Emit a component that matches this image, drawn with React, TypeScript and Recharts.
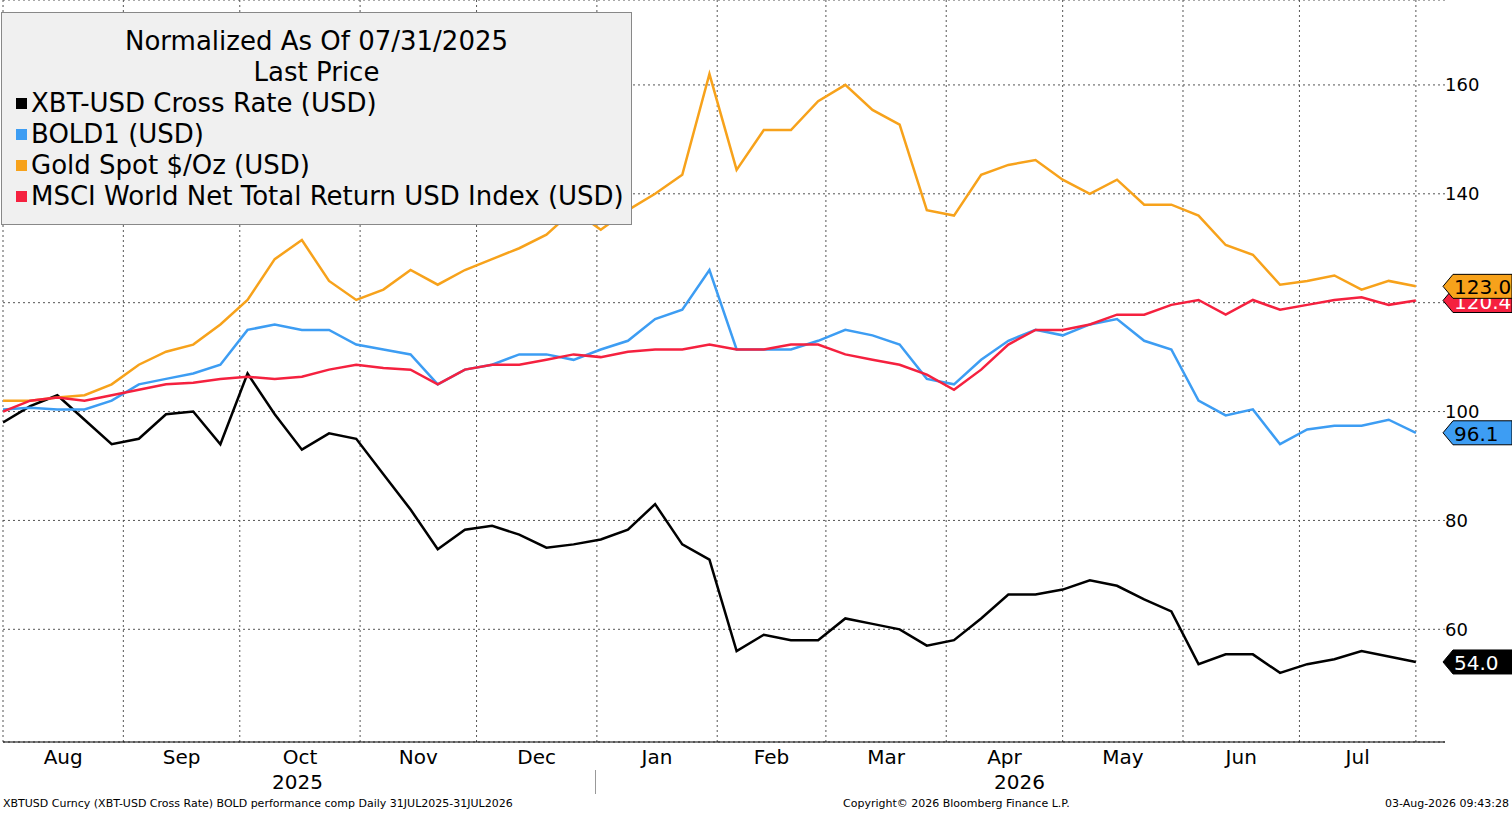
import { LineChart, Line, XAxis, YAxis, CartesianGrid, ReferenceLine, ReferenceDot } from "recharts";

const weekDays = Array.from({ length: 53 }, (_, i) => i * 7);

const xbt = [98, 101, 103, 98.5, 94, 95, 99.5, 100, 94, 107, 99.5, 93, 96, 95, 88.5, 82, 74.7, 78.3, 79, 77.4, 75, 75.6, 76.5, 78.3, 83, 75.6, 72.8, 56, 59, 58, 58, 62, 61, 60, 57, 58, 62, 66.4, 66.4, 67.3, 69, 68, 65.5, 63.3, 53.6, 55.4, 55.4, 52, 53.6, 54.5, 56, 55, 54];
const bold = [100.4, 100.7, 100.4, 100.4, 102, 105, 106, 107, 108.6, 115, 116, 115, 115, 112.3, 111.4, 110.5, 105, 107.7, 108.6, 110.5, 110.5, 109.5, 111.4, 113, 117, 118.7, 126, 111.4, 111.4, 111.4, 113, 115, 114, 112.3, 106, 105, 109.5, 113, 115, 114, 116, 117, 113, 111.4, 102, 99.3, 100.4, 94, 96.7, 97.4, 97.4, 98.5, 96.1];
const gold = [102, 102, 102.6, 103, 105, 108.6, 111, 112.3, 116, 120.5, 128, 131.5, 124, 120.5, 122.4, 126, 123.3, 126, 128, 130, 132.5, 137, 133.4, 137, 140, 143.5, 162, 144.4, 151.7, 151.7, 157, 160, 155.4, 152.7, 137, 136, 143.5, 145.3, 146.2, 142.6, 140, 142.6, 138, 138, 136, 130.6, 128.8, 123.3, 124, 125, 122.4, 124, 123];
const msci = [100, 102, 102.6, 102, 103, 104, 105, 105.3, 106, 106.4, 106, 106.4, 107.7, 108.6, 108, 107.7, 105, 107.7, 108.6, 108.6, 109.5, 110.5, 110, 111, 111.4, 111.4, 112.3, 111.4, 111.4, 112.3, 112.3, 110.5, 109.5, 108.6, 106.8, 104, 107.7, 112.3, 115, 115, 116, 117.8, 117.8, 119.6, 120.5, 117.8, 120.5, 118.7, 119.6, 120.5, 121, 119.6, 120.4];

const monthStarts = [0, 31, 61, 92, 122, 153, 184, 212, 243, 273, 304, 334, 364];
const monthLabels = ["Aug", "Sep", "Oct", "Nov", "Dec", "Jan", "Feb", "Mar", "Apr", "May", "Jun", "Jul"];
const yTicks = [60, 80, 100, 120, 140, 160];

const data = weekDays.map((d, i) => ({ d, xbt: xbt[i], bold: bold[i], gold: gold[i], msci: msci[i] }));
const monthMids = monthLabels.map((_, i) => (monthStarts[i] + monthStarts[i + 1]) / 2);

const series = [
  { key: "xbt", color: "#000000", name: "XBT-USD Cross Rate (USD)" },
  { key: "bold", color: "#3d9df3", name: "BOLD1 (USD)" },
  { key: "gold", color: "#f7a21b", name: "Gold Spot $/Oz (USD)" },
  { key: "msci", color: "#f5213f", name: "MSCI World Net Total Return USD Index (USD)" },
];

const lastTags = [
  { v: 54.0, color: "#000000", text: "#fff" },
  { v: 96.1, color: "#3d9df3", text: "#000" },
  { v: 120.4, color: "#f5213f", text: "#fff" },
  { v: 123.0, color: "#f7a21b", text: "#000" },
];

const font = "'DejaVu Sans', sans-serif";

function Tag(props: any) {
  const { cy, fill, txt, label } = props;
  const x0 = 1443;
  const h = 24;
  return (
    <g>
      <polygon
        points={`${x0},${cy} ${x0 + 10},${cy - h / 2} ${1512},${cy - h / 2} ${1512},${cy + h / 2} ${x0 + 10},${cy + h / 2}`}
        fill={fill}
        stroke="#000"
        strokeWidth={1}
      />
      <text x={x0 + 11} y={cy + 8} fontSize={20} fill={txt} fontFamily={font}>{label}</text>
    </g>
  );
}

export default function App() {
  return (
    <div style={{ position: "absolute", left: 0, top: 0, width: 1512, height: 813, background: "#fff", fontFamily: font, overflow: "hidden" }}>
      <LineChart width={1512} height={800} data={data} margin={{ top: 0, right: 0, left: 3, bottom: 0 }}>
        <CartesianGrid vertical={false} stroke="#555" strokeDasharray="2 3" />
        <XAxis
          dataKey="d"
          type="number"
          domain={[0, 371.5]}
          ticks={monthMids}
          tickFormatter={(v: number) => monthLabels[monthMids.indexOf(v)]}
          tickLine={false}
          axisLine={{ stroke: "#000" }}
          height={58}
          tick={{ fill: "#000", fontSize: 20, fontFamily: font, dy: 0 }}
          interval={0}
          allowDataOverflow
        />
        <YAxis
          orientation="right"
          domain={[39.3, 175.6]}
          ticks={yTicks}
          width={67}
          axisLine={false}
          tickLine={false}
          tickFormatter={(v: number) => (v === 120 ? "" : String(v))}
          tick={{ fill: "#000", fontSize: 18, fontFamily: font, textAnchor: "start", dx: -8 }}
          allowDataOverflow
        />
        {monthStarts.map((m) => (
          <ReferenceLine key={m} x={m} stroke="#555" strokeDasharray="2 3" />
        ))}
        {series.map((s) => (
          <Line key={s.key} dataKey={s.key} stroke={s.color} strokeWidth={2.5} dot={false} type="linear" isAnimationActive={false} />
        ))}
        {lastTags.map((t) => (
          <ReferenceDot
            key={t.v}
            x={364}
            y={t.v}
            ifOverflow="visible"
            shape={(p: any) => <Tag {...p} fill={t.color} txt={t.text} label={t.v.toFixed(1)} />}
          />
        ))}
      </LineChart>
      <div style={{ position: "absolute", left: 1, top: 12, width: 629, height: 211, background: "#f0f0f0", border: "1px solid #888", fontSize: 26, lineHeight: "31px" }}>
        <div style={{ textAlign: "center", marginTop: 13 }}>Normalized As Of 07/31/2025</div>
        <div style={{ textAlign: "center" }}>Last Price</div>
        {series.map((s) => (
          <div key={s.key} style={{ display: "flex", alignItems: "center", paddingLeft: 14 }}>
            <span style={{ display: "inline-block", width: 11, height: 11, background: s.color, marginRight: 4 }} />
            {s.name}
          </div>
        ))}
      </div>
      <div style={{ position: "absolute", left: 272, top: 770, fontSize: 20 }}>2025</div>
      <div style={{ position: "absolute", left: 994, top: 770, fontSize: 20 }}>2026</div>
      <div style={{ position: "absolute", left: 595, top: 770, width: 1, height: 24, background: "#999" }} />
      <div style={{ position: "absolute", left: 3, top: 797, fontSize: 11 }}>XBTUSD Curncy (XBT-USD Cross Rate) BOLD performance comp Daily 31JUL2025-31JUL2026</div>
      <div style={{ position: "absolute", left: 843, top: 797, fontSize: 11 }}>Copyright© 2026 Bloomberg Finance L.P.</div>
      <div style={{ position: "absolute", right: 3, top: 797, fontSize: 11 }}>03-Aug-2026 09:43:28</div>
    </div>
  );
}
